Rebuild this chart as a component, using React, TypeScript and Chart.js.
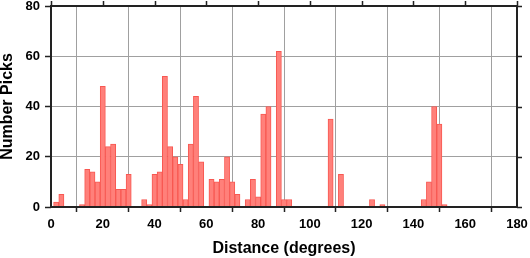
import React, { useEffect, useRef } from "react";
import { Chart, registerables } from "chart.js";

Chart.register(...registerables);

// Histogram bin centres (degrees, bins 2° wide) and number of picks per bin
const distances = [2, 4, 12, 14, 16, 18, 20, 22, 24, 26, 28, 30, 36, 38, 40, 42, 44, 46, 48, 50, 52, 54, 56, 58, 62, 64, 66, 68, 70, 72, 76, 78, 80, 82, 84, 88, 90, 92, 108, 112, 124, 128, 144, 146, 148, 150, 152];
const picks = [2, 5, 1, 15, 14, 10, 48, 24, 25, 7, 7, 13, 3, 1, 13, 14, 52, 24, 20, 17, 3, 25, 44, 18, 11, 10, 11, 20, 10, 5, 3, 11, 4, 37, 40, 62, 3, 3, 35, 13, 3, 1, 3, 10, 40, 33, 1];

const xTitle = "Distance (degrees)";
const yTitle = "Number Picks";
const xMin = 0, xMax = 180, xStep = 20;
const yMin = 0, yMax = 80, yStep = 20;

const FONT = "'Liberation Sans', Arial, Helvetica, sans-serif";

const framePlugin = {
  id: "frame",
  afterDraw(chart: any) {
    const { ctx, chartArea } = chart;
    const { left, right, top, bottom } = chartArea;
    ctx.save();
    ctx.strokeStyle = "#222";
    ctx.lineWidth = 1.5;
    const xs = chart.scales.x;
    const ys = chart.scales.y;
    ctx.beginPath();
    for (const t of xs.ticks) {
      const px = Math.round(xs.getPixelForValue(t.value)) + 0.5;
      ctx.moveTo(px, top);
      ctx.lineTo(px, top - 5);
    }
    for (const t of ys.ticks) {
      const py = Math.round(ys.getPixelForValue(t.value)) + 0.5;
      ctx.moveTo(right, py);
      ctx.lineTo(right + 5, py);
    }
    ctx.stroke();
    ctx.lineWidth = 2;
    ctx.strokeRect(left, top, right - left, bottom - top);
    ctx.restore();
  },
};

export default function App() {
  const ref = useRef<HTMLCanvasElement | null>(null);
  useEffect(() => {
    if (!ref.current) return;
    const chart = new Chart(ref.current, {
      type: "bar",
      data: {
        datasets: [
          {
            data: distances.map((d, i) => ({ x: d, y: picks[i] })),
            backgroundColor: "rgb(255,128,122)",
            borderColor: "rgb(248,88,82)",
            borderWidth: 1,
            barPercentage: 1,
            categoryPercentage: 1,
          },
        ],
      },
      options: {
        responsive: false,
        animation: false,
        layout: { padding: { left: 0, right: 13, top: 6, bottom: 0 } },
        plugins: { legend: { display: false }, tooltip: { enabled: false } },
        scales: {
          x: {
            type: "linear",
            min: xMin,
            max: xMax,
            offset: false,
            afterFit: (s: any) => { s.height = 51; s.paddingLeft = 0; s.paddingRight = 0; },
            grid: { color: "#a0a0a0", lineWidth: 1, drawTicks: true, tickLength: 5, tickColor: "#222", tickWidth: 1.5 },
            border: { display: false },
            ticks: { stepSize: xStep, color: "#000", padding: 5, maxRotation: 0, font: { family: FONT, weight: "bold", size: 13 } },
            title: { display: true, text: xTitle, color: "#000", padding: { top: 0, bottom: 1 }, font: { family: FONT, weight: "bold", size: 16, lineHeight: 1 } },
          },
          y: {
            min: yMin,
            max: yMax,
            afterFit: (s: any) => { s.width = 51; s.paddingTop = 0; s.paddingBottom = 0; },
            grid: { color: "#a0a0a0", lineWidth: 1, drawTicks: true, tickLength: 6, tickColor: "#222", tickWidth: 1.5 },
            border: { display: false },
            ticks: { stepSize: yStep, color: "#000", padding: 5, font: { family: FONT, weight: "bold", size: 13 } },
            title: { display: true, text: yTitle, color: "#000", padding: { top: 0, bottom: 0 }, font: { family: FONT, weight: "bold", size: 16, lineHeight: 1 } },
          },
        },
      } as any,
      plugins: [framePlugin],
    });
    return () => chart.destroy();
  }, []);
  return (
    <div style={{ position: "fixed", left: 0, top: 0, width: 530, height: 258, background: "#fff" }}>
      <canvas ref={ref} width={530} height={258} style={{ display: "block" }} />
    </div>
  );
}
